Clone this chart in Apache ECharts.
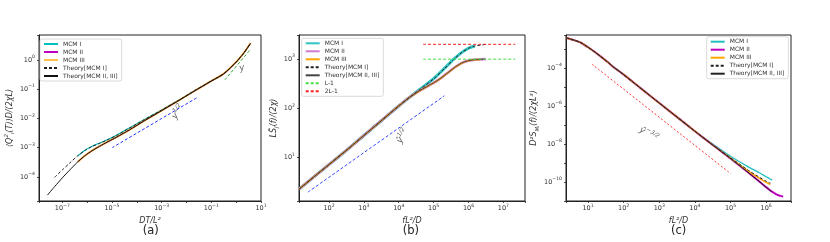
<!DOCTYPE html>
<html><head><meta charset="utf-8">
<script src="https://cdn.jsdelivr.net/npm/echarts@6/dist/echarts.min.js"></script>
<style>html,body{margin:0;padding:0;background:#fff;}.c{position:absolute;left:0;top:0;width:830px;height:242px;}</style>
</head><body>
<div id="ca" class="c"></div><div id="cb" class="c"></div><div id="cc" class="c"></div>
<script>
// ---------------- Panel (a) data ----------------
const aX_theory23 = [2.51e-8,5.01e-8,1e-7,2.0e-7,3.98e-7,7.94e-7,1.58e-6,3.16e-6,6.31e-6,1.58e-5,5.01e-5,2.0e-4,1e-3,5.01e-3,2.51e-2,0.1,0.316,1,2.0,3.8];
const aY_theory23 = [2.40e-5,4.79e-5,9.33e-5,1.74e-4,3.16e-4,5.25e-4,7.94e-4,1.12e-3,1.55e-3,2.34e-3,4.07e-3,8.32e-3,1.86e-2,4.17e-2,9.55e-2,0.191,0.339,0.851,1.70,3.72];
const aX_theory1 = [4.90e-8,1e-7,2.0e-7,3.98e-7,7.94e-7,1.58e-6,3.16e-6,6.31e-6,1.58e-5,5.01e-5,2.0e-4,1e-3,5.01e-3,2.51e-2,0.1,0.316,1,2.0,3.8];
const aY_theory1 = [9.77e-5,1.74e-4,3.02e-4,5.13e-4,7.94e-4,1.10e-3,1.41e-3,1.82e-3,2.69e-3,4.68e-3,9.12e-3,1.95e-2,4.27e-2,9.77e-2,0.191,0.339,0.851,1.70,3.72];
const aX_mcm = [4.2e-7,7.94e-7,1.58e-6,3.16e-6,6.31e-6,1.58e-5,5.01e-5,2.0e-4,1e-3,5.01e-3,2.51e-2,0.1,0.316,1,2.0,3.8];
const aY_mcm1 = [5.3e-4,8.1e-4,1.12e-3,1.44e-3,1.86e-3,2.75e-3,4.75e-3,9.2e-3,1.96e-2,4.27e-2,9.77e-2,0.191,0.339,0.851,1.70,3.72];
const aY_mcm2 = [3.3e-4,5.25e-4,7.94e-4,1.12e-3,1.55e-3,2.34e-3,4.07e-3,8.32e-3,1.86e-2,4.17e-2,9.55e-2,0.191,0.339,0.851,1.70,3.72];
const aY_mcm3 = [3.3e-4,5.3e-4,8.0e-4,1.13e-3,1.56e-3,2.36e-3,4.1e-3,8.4e-3,1.87e-2,4.2e-2,9.6e-2,0.192,0.342,0.86,1.72,3.8];
const aX_half = [1e-5, 2.6e-2];  const aY_half = [1.0e-3, 5.1e-2];
const aX_lin = [0.35, 3.6];      const aY_lin = [0.21, 2.2];

// ---------------- Panel (b) data ----------------
const bX_common = [13.8,31.6,100,316,1000,3162,1e4,2.0e4];
const bY_common = [2.29,3.72,7.24,14.1,28.2,56.2,112,166];
const bX_upper = [3.98e4,1e5,2.0e5,3.72e5,6.31e5,1e6,1.58e6,2.51e6,3.16e6];
const bY_upper = [240,398,631,977,1349,1660,1862,1950,1995];
const bX_lower = [3.98e4,1e5,1.58e5,2.51e5,3.98e5,6.31e5,1e6,1.58e6,2.82e6];
const bY_lower = [229,331,407,525,676,832,933,977,1000];
const bX_mcm1Tail = [3.98e4,1e5,2.0e5,3.72e5,6.31e5,1e6,1.5e6];
const bY_mcm1Tail = [242,402,640,985,1355,1665,1850];
const bX_mcm2Tail = [3.98e4,1e5,1.58e5,2.51e5,3.98e5,6.31e5,1e6,1.58e6,2.51e6,3.16e6];
const bY_mcm2Tail = [229,331,407,525,676,832,933,977,995,1005];
const bX_mcm3Tail = [3.98e4,1e5,1.58e5,2.51e5,3.98e5,6.31e5,1e6,1.58e6,2.24e6];
const bY_mcm3Tail = [228,329,405,522,672,828,930,975,990];
const bX_plateau = [5.0e4, 2.2e7]; const bY_L1 = [999, 999]; const bY_2L1 = [1999, 1999];
const bX_half = [25, 2.05e5]; const bY_half = [2.0, 181];

// ---------------- Panel (c) data ----------------
const cX_theory23 = [2.40,3.98,6.31,10,15.8,22.4,35.5,52.5,100,316,1000,3162,1e4,3.16e4,1e5,3.16e5,1e6,1.48e6];
const cY_theory23 = [3.98e-3,3.02e-3,2.19e-3,1.26e-3,6.92e-4,4.17e-4,2.09e-4,1.12e-4,4.57e-5,8.13e-6,1.45e-6,2.63e-7,4.79e-8,8.91e-9,1.74e-9,3.16e-10,5.37e-11,2.95e-11];
const cX_head = [2.40,3.98,6.31,10,15.8,22.4,35.5,52.5,100,316,1000,3162,1e4];
const cY_head = [3.98e-3,3.02e-3,2.19e-3,1.26e-3,6.92e-4,4.17e-4,2.09e-4,1.12e-4,4.57e-5,8.13e-6,1.45e-6,2.63e-7,4.79e-8];
const cX_theory1Tail = [3.16e4,1e5,3.16e5,1e6,1.32e6];
const cY_theory1Tail = [8.91e-9,1.91e-9,4.17e-10,1.10e-10,8.71e-11];
const cX_mcm1Tail = [3.16e4,1e5,3.16e5,6.31e5,1e6,1.26e6,1.48e6];
const cY_mcm1Tail = [1.0e-8,2.29e-9,6.31e-10,3.16e-10,1.91e-10,1.48e-10,1.26e-10];
const cX_mcm2Tail = [3.16e4,1e5,3.16e5,1e6,1.26e6,1.58e6,2.0e6,2.51e6,3.02e6];
const cY_mcm2Tail = [8.91e-9,1.74e-9,3.16e-10,5.37e-11,3.80e-11,2.82e-11,2.19e-11,1.86e-11,1.70e-11];
const cX_mcm3Tail = [3.16e4,1e5,3.16e5,1e6,1.32e6];
const cY_mcm3Tail = [8.91e-9,1.82e-9,3.80e-10,9.55e-11,7.41e-11];
const cX_red = [12.9, 1e5]; const cY_red = [1.62e-4, 2.82e-10];

// ---------------- helpers ----------------
const FONT = 'DejaVu Sans';
const zip = (xs, ys) => xs.map((x, i) => [x, ys[i]]);
const tickRich = {
  b: {fontSize: 6.5, color: '#333', fontFamily: FONT},
  s: {fontSize: 4.6, color: '#333', fontFamily: FONT, padding: [0, 0, 6, 0]}
};
const nameRich = {
  n: {fontSize: 8, fontStyle: 'italic', color: '#333', fontFamily: FONT},
  sub: {fontSize: 5.5, fontStyle: 'italic', color: '#333', fontFamily: FONT, padding: [6, 0, 0, 0]},
  sup: {fontSize: 5.5, fontStyle: 'italic', color: '#333', fontFamily: FONT, padding: [0, 0, 6, 0]}
};
function powLabel(filter) {
  return function (v) {
    const e = Math.log10(v), r = Math.round(e);
    if (Math.abs(e - r) > 1e-4) return '';
    if (filter && !filter(r)) return '';
    return '{b|10}{s|' + (r < 0 ? '\u2212' + (-r) : r) + '}';
  };
}
function axis(min, max, name, nameGap, filter, margin) {
  return {
    type: 'log', logBase: 10, min: min, max: max,
    name: name, nameLocation: 'middle', nameGap: nameGap,
    nameTextStyle: {fontSize: 8, fontStyle: 'italic', color: '#333', fontFamily: FONT, rich: nameRich},
    axisLine: {show: true, lineStyle: {color: '#222', width: 1}},
    axisTick: {show: true, length: 2, lineStyle: {color: '#222', width: 0.8}},
    axisLabel: {margin: margin, formatter: powLabel(filter), rich: tickRich},
    splitLine: {show: false}, minorTick: {show: false}, minorSplitLine: {show: false}
  };
}
function line(name, data, color, width, dash, z) {
  return {
    type: 'line', name: name, data: data, showSymbol: false, symbol: 'none', smooth: 0.25,
    lineStyle: {color: color, width: width, type: dash || 'solid'}, itemStyle: {color: color},
    z: z || 2, silent: true, animation: false
  };
}
function note(pt, text, rot) {
  return {
    type: 'scatter', data: [pt], symbolSize: 1, itemStyle: {color: 'rgba(0,0,0,0)'}, silent: true, z: 5,
    label: {show: true, position: 'inside', rotate: rot, formatter: text, color: '#333',
      rich: {
        i: {fontSize: 9, fontStyle: 'italic', color: '#3a3a3a', fontFamily: FONT},
        s: {fontSize: 6, fontStyle: 'italic', color: '#3a3a3a', fontFamily: FONT, padding: [0, 0, 7, 0]}
      }}
  };
}
function legend(left, top, names) {
  return {
    orient: 'vertical', left: left, top: top, data: names,
    itemWidth: 14, itemHeight: 6, itemGap: 2, padding: [2, 4, 2, 3],
    itemStyle: {opacity: 0, borderWidth: 0},
    textStyle: {fontSize: 6, color: '#333', fontFamily: FONT},
    borderColor: '#d0d0d0', borderWidth: 0.8, borderRadius: 2,
    backgroundColor: 'rgba(255,255,255,0.85)', selectedMode: false
  };
}
function panelLabel(x, t) {
  return {type: 'text', left: x - 9, top: 225, style: {text: t, fontSize: 11.5, fontFamily: FONT, fill: '#222'}};
}
const CY = '#00bfbf', MG = '#bf00bf', OR = '#ffa500';

// ---------------- chart (a) ----------------
const ca = echarts.init(document.getElementById('ca'), null, {renderer: 'canvas'});
ca.setOption({
  animation: false,
  grid: {left: 39, top: 35, width: 222, height: 166, show: true, borderColor: '#222', borderWidth: 1, containLabel: false},
  xAxis: axis(1.15e-8, 10, 'DT/L²', 13, r => Math.abs(r) % 2 === 1, 2),
  yAxis: axis(1.51e-5, 7.16, '⟨Q{sup|2}{sub|i}(T)⟩D/(2χL)', 23, null, 4),
  legend: legend(40, 39, ['MCM I', 'MCM II', 'MCM III', 'Theory[MCM I]', 'Theory[MCM II, III]']),
  graphic: [panelLabel(151.7, '(a)')],
  series: [
    line('MCM I', zip(aX_mcm, aY_mcm1), CY, 1.1),
    line('MCM II', zip(aX_mcm, aY_mcm2), MG, 1.1),
    line('MCM III', zip(aX_mcm, aY_mcm3), 'rgba(255,165,0,0.7)', 2),
    line('Theory[MCM I]', zip(aX_theory1, aY_theory1), '#222', 1, [3, 2], 3),
    line('Theory[MCM II, III]', zip(aX_theory23, aY_theory23), '#111', 1, 'solid', 3),
    line('y12', zip(aX_half, aY_half), '#2233ff', 1, [3, 2], 4),
    line('y1', zip(aX_lin, aY_lin), '#2ca02c', 1, [3, 2], 4),
    note([4.6e-3, 1.66e-2], '{i|y}{s|1/2}', 55),
    note([1.7, 0.53], '{i|y}', 15)
  ]
});

// ---------------- chart (b) ----------------
const cb = echarts.init(document.getElementById('cb'), null, {renderer: 'canvas'});
cb.setOption({
  animation: false,
  grid: {left: 299, top: 35, width: 226, height: 166, show: true, borderColor: '#222', borderWidth: 1, containLabel: false},
  xAxis: axis(13.8, 4.17e7, 'fL²/D', 13, null, 2),
  yAxis: axis(1.32, 3090, 'LS̃{sub|J}(f)/(2χ)', 18, null, 4),
  legend: legend(301.7, 38.3, ['MCM I', 'MCM II', 'MCM III', 'Theory[MCM I]', 'Theory[MCM II, III]', 'L-1', '2L-1']),
  graphic: [panelLabel(411.7, '(b)')],
  series: [
    line('MCM I', zip(bX_common.concat(bX_mcm1Tail), bY_common.concat(bY_mcm1Tail)), '#30c4c4', 3),
    line('MCM II', zip(bX_common.concat(bX_mcm2Tail), bY_common.concat(bY_mcm2Tail)), '#d27ad2', 2.6),
    line('MCM III', zip(bX_common.concat(bX_mcm3Tail), bY_common.concat(bY_mcm3Tail)), OR, 1.6),
    line('Theory[MCM I]', zip(bX_common.concat(bX_upper), bY_common.concat(bY_upper)), '#222', 1, [3, 2], 3),
    line('Theory[MCM II, III]', zip(bX_common.concat(bX_lower), bY_common.concat(bY_lower)), '#444', 1, 'solid', 3),
    line('L-1', zip(bX_plateau, bY_L1), '#44dd44', 1, [3, 2], 4),
    line('2L-1', zip(bX_plateau, bY_2L1), '#ff2020', 1, [3, 2], 4),
    line('half', zip(bX_half, bY_half), '#3344ff', 1, [3, 2], 4),
    note([1.3e4, 27.5], '{i|ŷ}{s|1/2}', 60)
  ]
});

// ---------------- chart (c) ----------------
const cc = echarts.init(document.getElementById('cc'), null, {renderer: 'canvas'});
cc.setOption({
  animation: false,
  grid: {left: 566, top: 35, width: 225, height: 166, show: true, borderColor: '#222', borderWidth: 1, containLabel: false},
  xAxis: axis(2.40, 5.0e6, 'fL²/D', 13, null, 2),
  yAxis: axis(1.0e-11, 5.6e-3, 'D²S{sub|Mᵢ}(f)/(2χL³)', 21, r => Math.abs(r) % 2 === 0, 4),
  legend: legend(706.7, 36.7, ['MCM I', 'MCM II', 'MCM III', 'Theory[MCM I]', 'Theory[MCM II, III]']),
  graphic: [panelLabel(680, '(c)')],
  series: [
    line('MCM I', zip(cX_head.concat(cX_mcm1Tail), cY_head.concat(cY_mcm1Tail)), '#20c0c0', 1.3),
    line('MCM II', zip(cX_head.concat(cX_mcm2Tail), cY_head.concat(cY_mcm2Tail)), MG, 2),
    line('MCM III', zip(cX_head.concat(cX_mcm3Tail), cY_head.concat(cY_mcm3Tail)), OR, 1.5),
    line('Theory[MCM I]', zip(cX_head.concat(cX_theory1Tail), cY_head.concat(cY_theory1Tail)), '#222', 1, [3, 2], 3),
    line('Theory[MCM II, III]', zip(cX_theory23, cY_theory23), '#222', 1, 'solid', 3),
    line('red', zip(cX_red, cY_red), '#ff3030', 1, [2, 2], 4),
    note([500, 3.2e-8], '{i|ŷ}{s|−3/2}', -32)
  ]
});
</script></body></html>
